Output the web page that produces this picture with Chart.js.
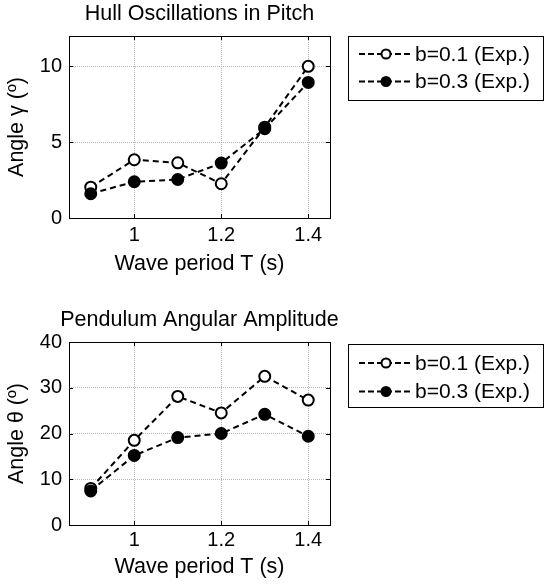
<!DOCTYPE html>
<html>
<head>
<meta charset="utf-8">
<script src="https://cdn.jsdelivr.net/npm/chart.js@4.4.1/dist/chart.umd.min.js"></script>
<style>
  html, body { margin: 0; padding: 0; background: #fff; }
  #page { position: relative; width: 545px; height: 585px; overflow: hidden; }
  canvas { position: absolute; left: 0; }
</style>
</head>
<body>
<div id="page">
  <canvas id="pitchChart" width="545" height="290" style="top:0"></canvas>
  <canvas id="pendulumChart" width="545" height="295" style="top:290px"></canvas>
</div>
<script>
// wave periods T (s)
const periods = [0.9, 1.0, 1.1, 1.2, 1.3, 1.4];

// hull pitch amplitude gamma (deg)
const pitchB01 = [2.03, 3.84, 3.64, 2.26, 5.99, 10.0];
const pitchB03 = [1.6, 2.39, 2.54, 3.62, 5.89, 8.94];

// pendulum angular amplitude theta (deg)
const pendulumB01 = [8.0, 18.5, 28.1, 24.5, 32.5, 27.3];
const pendulumB03 = [7.45, 15.2, 19.1, 20.0, 24.2, 19.4];

const seriesLabels = ["b=0.1 (Exp.)", "b=0.3 (Exp.)"];
const periodTicks = [1, 1.2, 1.4];
const pitchTicks = [0, 5, 10];
const pendulumTicks = [0, 10, 20, 30, 40];

const FONT = "'Liberation Sans', Arial, sans-serif";
Chart.defaults.font.family = FONT;
Chart.defaults.color = "#000";

// axes frame with inward tick marks on all four sides
const framePlugin = {
    id: "frame",
    beforeDatasetsDraw(chart) {
        const { ctx, chartArea: a, scales } = chart;
        const len = 4;
        ctx.save();
        ctx.strokeStyle = "#000";
        ctx.lineWidth = 1;
        ctx.strokeRect(a.left + 0.5, a.top + 0.5, a.right - a.left, a.bottom - a.top);
        ctx.beginPath();
        scales.x.ticks.forEach(t => {
            const px = Math.round(scales.x.getPixelForValue(t.value)) + 0.5;
            ctx.moveTo(px, a.bottom); ctx.lineTo(px, a.bottom - len);
            ctx.moveTo(px, a.top); ctx.lineTo(px, a.top + len);
        });
        scales.y.ticks.forEach(t => {
            const py = Math.round(scales.y.getPixelForValue(t.value)) + 0.5;
            ctx.moveTo(a.left, py); ctx.lineTo(a.left + len, py);
            ctx.moveTo(a.right, py); ctx.lineTo(a.right - len, py);
        });
        ctx.stroke();
        ctx.restore();
    }
};

// title centred over the plot area
const plotTitlePlugin = {
    id: "plotTitle",
    afterDraw(chart, _args, opts) {
        const { ctx, chartArea: a } = chart;
        ctx.save();
        ctx.font = `${opts.size}px ${FONT}`;
        ctx.fillStyle = "#000";
        ctx.textAlign = "center";
        ctx.textBaseline = "middle";
        ctx.fillText(opts.text, (a.left + a.right) / 2, opts.y);
        ctx.restore();
    }
};

// boxed legend with line + marker samples
const boxLegendPlugin = {
    id: "boxLegend",
    afterDraw(chart, _args, opts) {
        const { ctx } = chart;
        ctx.save();
        ctx.strokeStyle = "#000";
        ctx.lineWidth = 1;
        ctx.strokeRect(opts.left + 0.5, opts.top + 0.5, opts.right - opts.left, opts.bottom - opts.top);
        chart.data.datasets.forEach((ds, i) => {
            const y = opts.rows[i];
            ctx.beginPath();
            ctx.setLineDash([6, 3]);
            ctx.lineWidth = ds.borderWidth;
            ctx.strokeStyle = ds.borderColor;
            ctx.moveTo(opts.left + 11, y);
            ctx.lineTo(opts.left + 64, y);
            ctx.stroke();
            ctx.setLineDash([]);
            ctx.beginPath();
            ctx.arc(opts.left + 38, y, 4.5, 0, Math.PI * 2);
            ctx.fillStyle = ds.pointBackgroundColor;
            ctx.fill();
            ctx.lineWidth = 2;
            ctx.strokeStyle = ds.pointBorderColor;
            ctx.stroke();
            ctx.font = `21px ${FONT}`;
            ctx.fillStyle = "#000";
            ctx.textBaseline = "middle";
            ctx.fillText(ds.label, opts.left + 67, y + 1);
        });
        ctx.restore();
    }
};

function makeSeries(label, values, filled, order) {
    return {
        label,
        data: periods.map((t, i) => ({ x: t, y: values[i] })),
        borderColor: "#000",
        borderWidth: 2,
        borderDash: [6, 4],
        tension: 0,
        fill: false,
        pointRadius: 5.5,
        pointBorderWidth: 2,
        pointBackgroundColor: filled ? "#000" : "#fff",
        pointBorderColor: "#000",
        order
    };
}

function makeChart(canvasId, opts) {
    const gridOpts = { color: "#b8b8b8", lineWidth: 1, drawTicks: false };
    return new Chart(document.getElementById(canvasId), {
        type: "line",
        data: {
            datasets: [
                makeSeries(seriesLabels[0], opts.b01, false, 1),
                makeSeries(seriesLabels[1], opts.b03, true, 0)
            ]
        },
        plugins: [framePlugin, plotTitlePlugin, boxLegendPlugin],
        options: {
            responsive: false,
            animation: false,
            layout: { padding: { top: opts.padTop, right: 215, left: 0, bottom: 0 } },
            plugins: {
                legend: { display: false },
                tooltip: { enabled: false },
                plotTitle: { text: opts.title, y: opts.titleY, size: 21.5 },
                boxLegend: opts.legend
            },
            scales: {
                x: {
                    type: "linear",
                    min: 0.85,
                    max: 1.45,
                    afterBuildTicks(scale) { scale.ticks = periodTicks.map(value => ({ value })); },
                    afterFit(scale) { scale.height = opts.xHeight; },
                    grid: gridOpts,
                    border: { display: false, dash: [1, 1] },
                    ticks: { padding: opts.xTickPad, font: { size: 20 }, callback: v => String(v) },
                    title: { display: true, text: "Wave period T (s)", font: { size: 21.5 }, padding: { top: 0, bottom: opts.xTitlePad } }
                },
                y: {
                    min: 0,
                    max: opts.yMax,
                    afterBuildTicks(scale) { scale.ticks = opts.yTicks.map(value => ({ value })); },
                    afterFit(scale) { scale.width = 69; },
                    grid: gridOpts,
                    border: { display: false, dash: [1, 1] },
                    ticks: { padding: 7, font: { size: 20 }, callback: v => String(v) },
                    title: { display: true, text: opts.yTitle, font: { size: 21.5 }, padding: { top: 4, bottom: 0 } }
                }
            }
        }
    });
}

makeChart("pitchChart", {
    b01: pitchB01, b03: pitchB03,
    title: "Hull Oscillations in Pitch", titleY: 14,
    yTitle: "Angle \u03b3 (\u00ba)", yMax: 12, yTicks: pitchTicks,
    padTop: 36, xHeight: 72, xTickPad: 5, xTitlePad: 13,
    legend: { left: 348, right: 543, top: 36, bottom: 100, rows: [54, 81.5] }
});

makeChart("pendulumChart", {
    b01: pendulumB01, b03: pendulumB03,
    title: "Pendulum Angular Amplitude", titleY: 30,
    yTitle: "Angle \u03b8 (\u00ba)", yMax: 40, yTicks: pendulumTicks,
    padTop: 52, xHeight: 60, xTickPad: 3, xTitlePad: 5,
    legend: { left: 348, right: 543, top: 54, bottom: 117, rows: [73, 101.5] }
});
</script>
</body>
</html>
